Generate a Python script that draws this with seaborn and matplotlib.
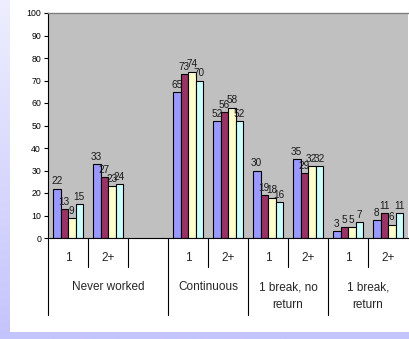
import numpy as np
import pandas as pd
import matplotlib
matplotlib.use("Agg")
import matplotlib.pyplot as plt
from matplotlib.patches import Rectangle
from matplotlib.transforms import blended_transform_factory
import seaborn as sns

# Slots along the x axis: (group, sub-label); the empty slot keeps a gap after "Never worked"
groups = ["Never worked", "Continuous", "1 break, no\nreturn", "1 break,\nreturn"]
group_slots = [["1", "2+", ""], ["1", "2+"], ["1", "2+"], ["1", "2+"]]
series_names = ["Series 1", "Series 2", "Series 3", "Series 4"]

# Values per filled slot (Never worked 1, 2+, Continuous 1, 2+, no return 1, 2+, return 1, 2+)
series1 = [22, 33, 65, 52, 30, 35, 3, 8]
series2 = [13, 27, 73, 56, 19, 29, 5, 11]
series3 = [9, 23, 74, 58, 18, 32, 5, 6]
series4 = [15, 24, 70, 52, 16, 32, 7, 11]

colors = ["#9999FF", "#993366", "#FFFFCC", "#CCFFFF"]

slot_keys = []
slot_labels = []
for g, subs in zip(groups, group_slots):
    for s in subs:
        slot_keys.append(f"{g}|{s}")
        slot_labels.append(s)
filled = [k for k in slot_keys if not k.endswith("|")]

rows = []
for name, vals in zip(series_names, [series1, series2, series3, series4]):
    for k, v in zip(filled, vals):
        rows.append({"slot": k, "series": name, "value": v})
df = pd.DataFrame(rows)

sns.set_style("white")
plt.rcParams["font.family"] = ["Liberation Sans", "DejaVu Sans"]

W, H = 409, 339
fig = plt.figure(figsize=(W / 100, H / 100), dpi=100)

# Lavender frame with a white chart area
bg = fig.add_axes([0, 0, 1, 1], zorder=-10)
grad = np.linspace(0, 1, 256).reshape(-1, 1)
cmap = matplotlib.colors.LinearSegmentedColormap.from_list("frame", ["#EEEEFF", "#C4C4FC"])
bg.imshow(grad, aspect="auto", cmap=cmap, extent=[0, 1, 0, 1], origin="upper")
bg.add_patch(Rectangle((10 / W, 7 / H), 1, 1, facecolor="white", edgecolor="none"))
bg.set_xlim(0, 1)
bg.set_ylim(0, 1)
bg.axis("off")

x0, x1 = 48, 408
ytop, ybot = 13, 238
ax = fig.add_axes([x0 / W, (H - ybot) / H, (x1 - x0) / W, (ybot - ytop) / H])
ax.set_facecolor("#C0C0C0")

sns.barplot(data=df, x="slot", y="value", hue="series", order=slot_keys,
            hue_order=series_names, palette=colors, saturation=1, width=0.75,
            edgecolor="black", linewidth=0.8, legend=False, ax=ax)

for cont in ax.containers:
    ax.bar_label(cont, fmt="%g", fontsize=7.2, padding=1.5, color="#1a1a1a")

ax.set_xlim(-0.5, len(slot_keys) - 0.5)
ax.set_ylim(0, 100)
ax.set_yticks(range(0, 101, 10))
ax.tick_params(axis="y", labelsize=6.3, length=3, width=0.8, direction="out",
               left=True, pad=2, colors="black")
ax.set_xticks([])
ax.set_xlabel("")
ax.set_ylabel("")
for side in ["left", "bottom"]:
    ax.spines[side].set_color("black")
    ax.spines[side].set_linewidth(0.8)
ax.spines["top"].set_color("#808080")
ax.spines["top"].set_linewidth(1.0)
ax.spines["right"].set_visible(False)

# Two-level category axis drawn below the plot
tr = blended_transform_factory(ax.transData, ax.transAxes)
ph = ybot - ytop
short = -29 / ph
long = -77 / ph
group_edges = [-0.5]
pos = -0.5
for subs in group_slots:
    pos += len(subs)
    group_edges.append(pos)
for b in np.arange(-0.5, len(slot_keys) - 0.5, 1.0):
    is_group = any(abs(b - e) < 1e-9 for e in group_edges)
    ax.plot([b, b], [0, long if is_group else short], transform=tr,
            color="black", lw=0.8, clip_on=False)

for i, lab in enumerate(slot_labels):
    if lab:
        ax.text(i, -20 / ph, lab, transform=tr, ha="center", va="center", fontsize=8.5)

for gi, g in enumerate(groups):
    center = (group_edges[gi] + group_edges[gi + 1]) / 2
    for li, line in enumerate(g.split("\n")):
        ax.text(center, -(49 + 18 * li) / ph, line, transform=tr,
                ha="center", va="center", fontsize=8.5)

fig.savefig("out.png", dpi=100)
